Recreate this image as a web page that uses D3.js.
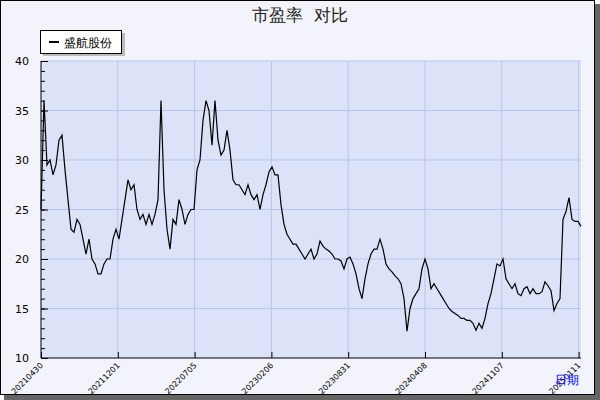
<!DOCTYPE html>
<html><head><meta charset="utf-8">
<script src="https://cdn.jsdelivr.net/npm/d3@7"></script>
<style>body{margin:0;background:#fff}text{font-family:"DejaVu Sans",sans-serif;white-space:pre}</style>
</head><body><svg width="600" height="400"></svg>
<script>
var title = "市盈率  对比",
    seriesName = "盛航股份",
    xAxisName = "日期";
var tickLabels = ["20210430", "20211201", "20220705", "20230206", "20230831", "20240408", "20241107", "20250111"];
var tickIdx = [0, 25.6, 51.2, 76.8, 102.4, 128, 153.6, 179.2];
var yTicks = [10, 15, 20, 25, 30, 35, 40];
var pe = [25,36,29.5,30,28.5,29.5,32,32.5,29,26,23,22.7,24,23.5,22,20.5,22,20,19.5,18.5,
  18.5,19.5,20,20,22,23,22,24,26,28,27,27.5,25,24,24.5,23.5,24.5,23.5,24.5,26,
  36,27,23,21,24,23.5,26,25,23.5,24.5,25,25,29,30,34,36,35,31.5,36,32,
  30.5,31,33,31,28,27.5,27.5,27,26.5,27.5,26.5,26,26.5,25,26.5,27.5,28.8,29.3,28.5,28.5,
  25.5,23.5,22.5,22,21.5,21.5,21,20.5,20,20.5,21,20,20.5,21.8,21.3,21,20.8,20.5,20,20,
  19.8,19,20,20.2,19.5,18.5,17,16,18,19.5,20.5,21,21,22,21,19.5,19,18.7,18.3,18,
  17.5,16,12.7,15,16,16.5,17,19,20,19,17,17.5,17,16.5,16,15.5,15,14.7,14.5,14.3,
  14,14,13.8,13.8,13.5,12.8,13.5,13,14,15.5,16.5,18,19.5,19.3,20,18,17.5,17,17.5,16.5,
  16.3,17,17.2,16.5,17,16.5,16.5,16.7,17.7,17.3,16.8,14.8,15.5,16,24,24.8,26.2,24,23.8,23.8,23.3];

var svg = d3.select("svg");
// frame with shadow
svg.append("rect").attr("x", 4).attr("y", 4).attr("width", 596).attr("height", 396).attr("fill", "#666");
svg.append("rect").attr("x", 0.5).attr("y", 0.5).attr("width", 594).attr("height", 394)
    .attr("fill", "#f2f3fb").attr("stroke", "#000");

var x = d3.scaleLinear().domain([0, 180]).range([41, 581]),
    y = d3.scaleLinear().domain([10, 40]).range([358, 61]);

svg.append("rect").attr("x", 41).attr("y", 61).attr("width", 540).attr("height", 297).attr("fill", "#dce2f7");

// gridlines
svg.append("g").selectAll("line").data(yTicks.slice(1, -1)).enter().append("line")
    .attr("x1", 41).attr("x2", 581).attr("y1", y).attr("y2", y)
    .attr("stroke", "#b9c5ea");
svg.append("g").selectAll("line").data(tickIdx.slice(1)).enter().append("line")
    .attr("x1", x).attr("x2", x).attr("y1", 61).attr("y2", 358)
    .attr("stroke", "#b9c5ea");
svg.append("line").attr("x1", 41).attr("x2", 581).attr("y1", 61).attr("y2", 61).attr("stroke", "#b9c5ea");

// y axis
svg.append("g").attr("transform", "translate(41,0)")
    .call(d3.axisLeft(y).tickValues(d3.range(10, 41, 1)).tickSize(-4).tickFormat(""))
    .call(function(g) { g.select(".domain").remove(); });
svg.append("g").attr("transform", "translate(41,0)")
    .call(d3.axisLeft(y).tickValues(yTicks).tickSize(-7).tickPadding(12).tickFormat(d3.format("d")))
    .call(function(g) {
        g.select(".domain").attr("d", "M0,61V358");
        g.selectAll("text").attr("font-size", 11).attr("fill", "#000");
    });

// x axis
svg.append("g").attr("transform", "translate(0,358)")
    .call(d3.axisBottom(x).tickValues(tickIdx).tickSize(-6).tickFormat(function(d, i) { return tickLabels[i]; }))
    .call(function(g) {
        g.select(".domain").attr("d", "M41,0H581");
        g.selectAll("text").attr("font-size", 8).attr("fill", "#000")
            .attr("text-anchor", "end").attr("dy", 0).attr("y", 0)
            .attr("transform", "translate(2,8) rotate(-45)");
    });

// line
var line = d3.line().x(function(d, i) { return x(i); }).y(function(d) { return y(d); });
svg.append("path").datum(pe).attr("d", line).attr("fill", "none").attr("stroke", "#000").attr("stroke-width", 1.2);

// title
svg.append("text").attr("x", 300).attr("y", 21).attr("text-anchor", "middle")
    .attr("font-size", 17).attr("fill", "#222").text(title);

// legend
svg.append("rect").attr("x", 43).attr("y", 33).attr("width", 82).attr("height", 23).attr("fill", "#bbb");
svg.append("rect").attr("x", 40.5).attr("y", 30.5).attr("width", 81).attr("height", 23).attr("fill", "#fff").attr("stroke", "#000");
svg.append("line").attr("x1", 49).attr("x2", 59).attr("y1", 42).attr("y2", 42).attr("stroke", "#000").attr("stroke-width", 2);
svg.append("text").attr("x", 64).attr("y", 47).attr("font-size", 12).text(seriesName);

svg.append("text").attr("x", 555).attr("y", 384).attr("font-size", 12).attr("fill", "#0000ff").text(xAxisName);
</script></body></html>
